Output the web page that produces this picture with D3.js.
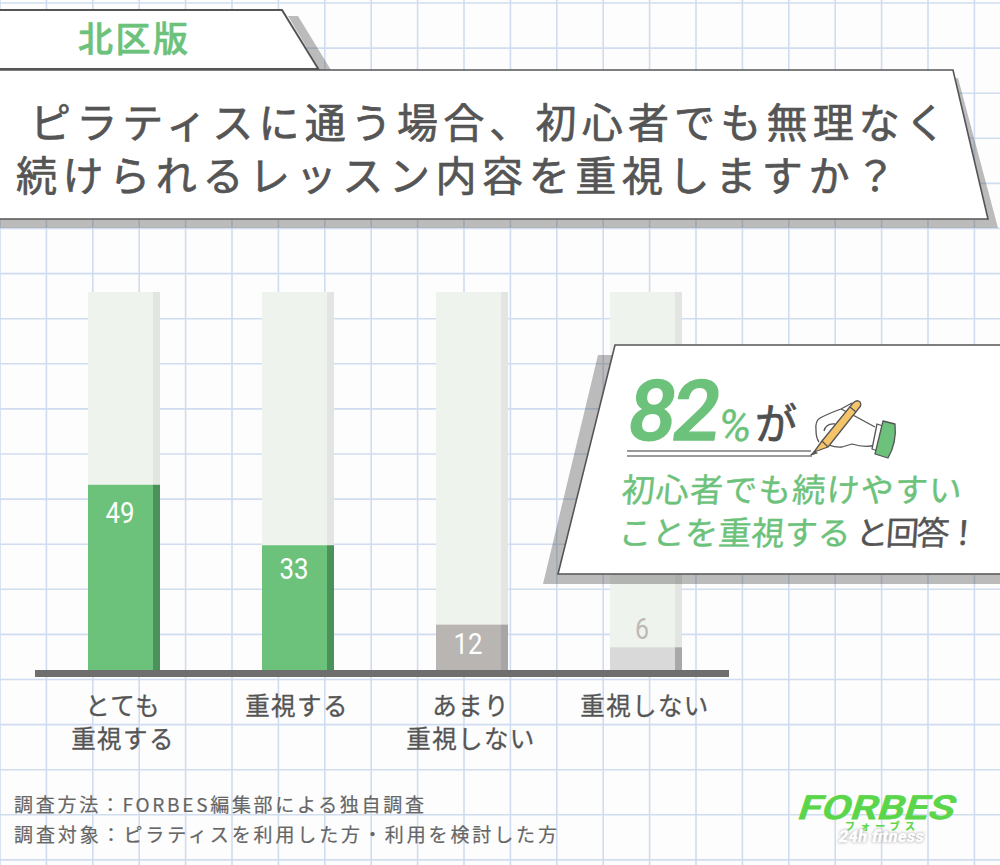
<!DOCTYPE html>
<html><head><meta charset="utf-8">
<script src="https://cdn.jsdelivr.net/npm/d3@7"></script>
<style>html,body{margin:0;padding:0;background:#fdfdfd;overflow:hidden}svg{display:block}
text{font-family:"Noto Sans CJK JP","Noto Sans",sans-serif}</style></head><body>
<svg id="c" width="1000" height="865"></svg>
<script>
const categories=["とても\n重視する","重視する","あまり\n重視しない","重視しない"];
const values=[49,33,12,6];
const barFill=["#6dc27b","#6dc27b","#b9b5b3","#d9d9d9"];
const barSide=["#4a9259","#4a9259","#a6a6a6","#a8a8a8"];
const labelFill=["#fff","#fff","#fff","#bdb9b7"];
const labelDy=[28,24,19,-18];
const svg=d3.select("#c");
const ink="#555555",green="#6dc27b",shadow="rgba(80,80,80,.38)";
const poly=(pts,fill,stroke,sw)=>svg.append("polygon").attr("points",pts.map(p=>p.join(",")).join(" ")).attr("fill",fill).attr("stroke",stroke||"none").attr("stroke-width",sw||0);
const txt=(s,x,y,size,fill,o={})=>{const t=(o.parent||svg).append("text").attr("x",x).attr("y",y).attr("font-size",size).attr("fill",fill).attr("stroke",fill).attr("stroke-width",o.sw==null?.5:o.sw).attr("stroke-linejoin","round").attr("font-weight",o.w||400).text(s);
 if(o.len)t.attr("textLength",o.len).attr("lengthAdjust","spacing");
 if(o.anchor)t.attr("text-anchor",o.anchor);
 if(o.font)t.style("font-family",o.font);
 if(o.skew)t.attr("transform",`translate(${x},${y}) skewX(${o.skew}) translate(${-x},${-y})`);
 return t;};

// grid paper
const gx=d3.range(0,22).map(i=>i*46.4), gy=d3.range(0,20).map(i=>3+i*45.1);
svg.append("g").selectAll("line").data(gx).join("line").attr("x1",d=>d).attr("x2",d=>d).attr("y1",0).attr("y2",865).attr("stroke","#d0ddf0").attr("stroke-width",1.6);
svg.append("g").selectAll("line").data(gy).join("line").attr("y1",d=>d).attr("y2",d=>d).attr("x1",0).attr("x2",1000).attr("stroke","#d0ddf0").attr("stroke-width",1.6);

// scales
const x=d3.scaleBand().domain(categories).range([88,682]).paddingInner(102/174).paddingOuter(0);
const y=d3.scaleLinear().domain([0,100]).range([670,292]);
const side=7;
const bars=svg.append("g");
bars.selectAll(".t").data(categories).join("rect").attr("x",d=>x(d)).attr("y",y(100)).attr("width",x.bandwidth()-side).attr("height",y(0)-y(100)).attr("fill","#eff3ee");
bars.selectAll(".s").data(categories).join("rect").attr("x",d=>x(d)+x.bandwidth()-side).attr("y",y(100)).attr("width",side).attr("height",y(0)-y(100)).attr("fill","#e3e5e3");
categories.forEach((c,i)=>{
 bars.append("rect").attr("x",x(c)).attr("y",y(values[i])).attr("width",x.bandwidth()-side).attr("height",y(0)-y(values[i])).attr("fill",barFill[i]);
 bars.append("rect").attr("x",x(c)+x.bandwidth()-side).attr("y",y(values[i])).attr("width",side).attr("height",y(0)-y(values[i])).attr("fill",barSide[i]);
 txt(String(values[i]),x(c)+x.bandwidth()/2-4,y(values[i])+labelDy[i]+10,30,labelFill[i],{anchor:"middle",font:"Roboto",sw:0,parent:bars}).attr("textLength",values[i]<10?14:29).attr("lengthAdjust","spacingAndGlyphs");
});
// axis
svg.append("rect").attr("x",35).attr("y",y(0)).attr("width",694).attr("height",7).attr("fill","#6e6e6e");
const ax=svg.append("g").attr("transform",`translate(0,${y(0)})`).call(d3.axisBottom(x).tickSize(0).tickPadding(0));
ax.select(".domain").remove();
ax.selectAll(".tick text").each(function(d){
 const t=d3.select(this).text(null).attr("y",0).attr("dy",null).attr("text-anchor","middle").attr("font-size",24.5).attr("fill",ink).attr("stroke",ink).attr("stroke-width",.3).style("letter-spacing","1.4px").style("font-family",'"Noto Sans CJK JP",sans-serif');
 d.split("\n").forEach((l,i)=>t.append("tspan").attr("x",-1).attr("y",45+i*33).text(l));
});

// tab
poly([[288,16],[298,16],[331,70],[320,70]],shadow);
poly([[-3,10],[282,10],[319,70],[-3,70]],"#fff",ink,2);
svg.append("line").attr("x1",0).attr("x2",319).attr("y1",69.5).attr("y2",69.5).attr("stroke",ink).attr("stroke-width",3);
txt("北区版",78,52,35,green,{len:110,w:500,sw:.6});
// title
poly([[958,78],[998,228],[-3,228],[-3,218]],shadow);
poly([[-3,70],[953,70],[988,219],[-3,219]],"#fff",ink,1.6);
txt("ピラティスに通う場合、初心者でも無理なく",30,138,41,ink,{len:916,sw:.7});
txt("続けられるレッスン内容を重視しますか？",16,191,41,ink,{len:880,sw:.7});

// callout
poly([[598,355],[1003,355],[1003,584],[543,584]],shadow);
poly([[615,345],[1003,345],[1003,574],[558,574]],"#fff",ink,1.6);
txt("82",625,440,84,green,{font:"Roboto",w:500,skew:-8,sw:1.4,len:92});
txt("%",717,441,44,green,{font:"Roboto",w:400,skew:-8,sw:.4,len:36});
txt("が",755,439,42,"#4f4f4f",{w:400,sw:.8,len:42});
svg.append("g").attr("stroke","#7a7a7a").attr("stroke-width",1.6).selectAll("line").data([451,456]).join("line").attr("x1",627).attr("x2",d=>d==451?811:812).attr("y1",d=>d).attr("y2",d=>d);
txt("初心者でも続けやすい",621,502,33,green,{len:340,skew:-4,sw:.4});
txt("ことを重視する",618,545,33,green,{len:232,skew:-4,sw:.4});
txt("と回答！",855,545,33,ink,{len:124,skew:-4,sw:.4});

// hand with pencil (decoration)
const hand=svg.append("g").attr("fill","none").attr("stroke","#555").attr("stroke-width",1.3).attr("stroke-linejoin","round");
hand.append("path").attr("d","M875,427 L851,414 L841,409 Q832,412 820,418 Q815,421 816,430 Q816,438 819,442 M822,440 Q830,448 842,447 L852,444 Q865,448 876,445 M824,431 Q826,423 835,424 M841,409 L852,403");
hand.append("path").attr("d","M814,452 L822,441 L853,403 Q857,399 860,402 Q862,405 859,408 L828,447 Z").attr("fill","#f5c469");
hand.append("path").attr("d","M811,455 L814,452 L817,453 Z").attr("fill","#555");
hand.append("path").attr("d","M822,441 L828,447 M850,407 L856,412");
hand.append("path").attr("d","M877,424 L883,426 L878,451 L872,449 Z").attr("fill","#fff");
hand.append("path").attr("d","M883,421 L895,424 Q897,442 888,458 L875,454 Z").attr("fill",green);

// footer
txt("調査方法：FORBES編集部による独自調査",14,812,19,"#666",{len:410,sw:.2});
txt("調査対象：ピラティスを利用した方・利用を検討した方",14,842,19,"#666",{len:543,sw:.2});

// logo
svg.append("text").attr("x",796).attr("y",819).attr("font-size",33).attr("font-weight",500).attr("fill","#5bd64b").attr("stroke","#5bd64b").attr("stroke-width",.8).attr("textLength",156).attr("lengthAdjust","spacingAndGlyphs").attr("transform","translate(796,819) skewX(-18) translate(-796,-819)").style("font-family","Roboto").text("FORBES");
txt("フォーブス",845,830,10,"#5bd64b",{len:70,w:700,sw:.2});
const lf=txt("24h fitness",838,842,16,"#fff",{font:"Roboto",w:900,sw:.3,skew:-10,len:85});
lf.style("filter","drop-shadow(0 0 1.5px #999)");
</script></body></html>
